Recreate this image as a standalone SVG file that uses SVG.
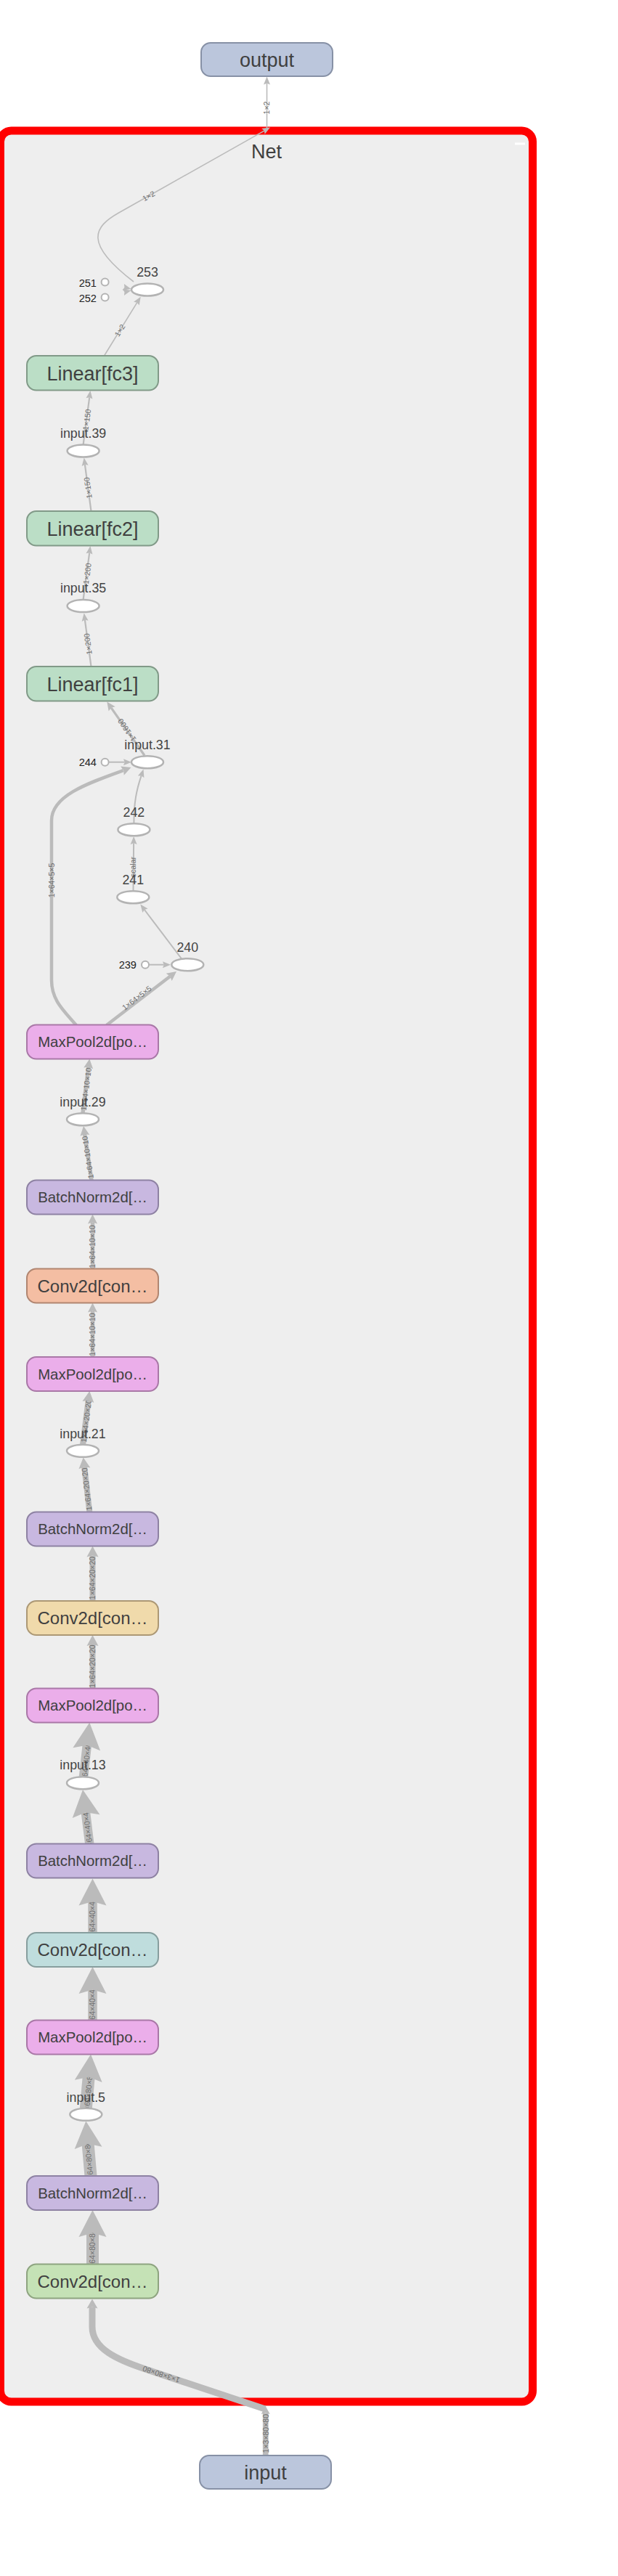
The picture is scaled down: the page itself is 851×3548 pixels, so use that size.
<svg xmlns="http://www.w3.org/2000/svg" xmlns:xlink="http://www.w3.org/1999/xlink" width="851" height="3548" viewBox="0 0 851 3548">
<style>
.edge{fill:none;stroke:#bbbbbb;stroke-linecap:butt}
.ah{fill:#bbbbbb}
.el{font-family:"Liberation Sans",Arial,sans-serif;font-size:10.5px;fill:#6e6e6e;text-anchor:middle}
.box{stroke-width:2}
.nl{font-family:"Liberation Sans",Arial,sans-serif;fill:#404040;text-anchor:middle}
.big{font-size:27px}
.conv{font-size:24px}
.mid{font-size:20.4px}
.opl{font-family:"Liberation Sans",Arial,sans-serif;font-size:17.8px;fill:#444;text-anchor:middle}
.cl{font-family:"Liberation Sans",Arial,sans-serif;font-size:14.6px;fill:#222;text-anchor:end}
.op{fill:#fff;stroke:#b3b3b3;stroke-width:2.5}
.cst{fill:#fff;stroke:#b3b3b3;stroke-width:2}
.io{fill:#bbc6dc;stroke:#8791a6}
.lin{fill:#bbdec6;stroke:#819a88}
.mp{fill:#ebaeea;stroke:#a978a7}
.bn{fill:#c8b8e0;stroke:#8e82a3}
.cv1{fill:#f4bea3;stroke:#b18671}
.cv2{fill:#f0daab;stroke:#ac9875}
.cv3{fill:#bfdddd;stroke:#879e9e}
.cv4{fill:#c5e2b6;stroke:#8ea480}
</style>
<defs>
<path id="ah1" d="M0,0 L-11,-4.5 L-9.35,0 L-11,4.5 Z"/>
<path id="ahT" d="M0,0 L-12,-5.5 L-10.2,0 L-12,5.5 Z"/>
<path id="ah2" d="M0,0 L-13,-6.5 L-11.05,0 L-13,6.5 Z"/>
<path id="ah3" d="M0,0 L-15,-8 L-12.75,0 L-15,8 Z"/>
<path id="ah4" d="M0,0 L-37,-19 L-31.45,0 L-37,19 Z"/>
<path id="ahIn" d="M0,0 L-13,-7.5 L-11.05,0 L-13,7.5 Z"/>
<path id="ahB" d="M0,0 L-11,-6 L-9.35,0 L-11,6 Z"/>
</defs>
<rect width="851" height="3548" fill="#ffffff"/>

<g id="Net">
<rect x="0.5" y="180" width="733" height="3128" rx="15" ry="15" fill="#eeeeee" stroke="#ff0000" stroke-width="11"/>
<text class="nl big" x="367" y="218">Net</text>
<rect x="709" y="196.5" width="14" height="3" fill="#ffffff"/>
</g>

<g id="connectors">
<g id="edge-paths">
<path class="edge" stroke-width="1.6" d="M367.5,176 L367.5,115"/>
<path class="edge" stroke-width="1.6" d="M184,388 C115,335 128.9,312.6 163.7,293 L363.9,180.1"/>
<path class="edge" stroke-width="1.6" d="M143.5,490 L188.8,416.7"/>
<path class="edge" stroke-width="2.2" d="M114.6,612.5 L123.2,547.3"/>
<path class="edge" stroke-width="2.2" d="M125.5,704 L116.9,639.8"/>
<path class="edge" stroke-width="2.2" d="M114.6,826 L123.2,761.3"/>
<path class="edge" stroke-width="2.2" d="M125.5,918 L116.9,853.8"/>
<path class="edge" stroke-width="3.2" d="M199,1040.5 L153.1,974.9"/>
<path class="edge" stroke-width="2" d="M150,1049.7 L171.6,1049.7"/>
<path class="edge" stroke-width="2" d="M184.4,1133.5 C184.4,1105 188,1088 194.6,1068.4"/>
<path class="edge" stroke-width="4.5" d="M105,1412 C88,1392 71,1378 71,1350 L71,1130 C71,1096 120,1079 169.8,1061.1"/>
<path class="edge" stroke-width="4.5" d="M146.7,1412 L234.2,1344.7"/>
<path class="edge" stroke-width="2" d="M205.5,1328.7 L225.7,1328.7"/>
<path class="edge" stroke-width="2" d="M250,1320.5 L198.9,1253"/>
<path class="edge" stroke-width="2" d="M183.5,1227 L184.1,1161.3"/>
<path class="edge" stroke-width="5.5" d="M114,1533 L121.9,1469.5"/>
<path class="edge" stroke-width="5.5" d="M126,1625.5 L116.6,1561.9"/>
<path class="edge" stroke-width="5.5" d="M127.5,1747.5 L127.5,1683.5"/>
<path class="edge" stroke-width="5.5" d="M127.5,1869 L127.5,1805.5"/>
<path class="edge" stroke-width="8" d="M114,1990 L121.7,1928.6"/>
<path class="edge" stroke-width="8" d="M123.3,2082.5 L116.1,2020.2"/>
<path class="edge" stroke-width="8" d="M127.5,2205 L127.5,2142.3"/>
<path class="edge" stroke-width="8" d="M127.5,2325.5 L127.5,2264.8"/>
<path class="edge" stroke-width="12.5" d="M115,2447.5 L119.8,2403.8"/>
<path class="edge" stroke-width="12.5" d="M123.3,2539.5 L117.9,2496.2"/>
<path class="edge" stroke-width="12.5" d="M127.5,2662 L127.5,2619"/>
<path class="edge" stroke-width="12.5" d="M127.5,2782.5 L127.5,2740.5"/>
<path class="edge" stroke-width="17" d="M118.3,2904 L122.2,2860.8"/>
<path class="edge" stroke-width="17" d="M125,2997 L121.1,2952.8"/>
<path class="edge" stroke-width="17" d="M127.5,3118.5 L127.5,3075.5"/>
<path class="edge" stroke-width="9" d="M365,3318 L200,3263 C162,3250.4 127,3235 127,3205 L127,3177.5"/>
<path class="edge" stroke-width="7.7" d="M365.7,3382 L365.7,3323.4"/>
</g>
<g id="edge-labels">
<text class="el" transform="translate(367.5,148.5) rotate(-90)" dy="3.8">1×2</text>
<text class="el" transform="translate(204.6,269.9) rotate(-29.4)" dy="3.8">1×2</text>
<text class="el" transform="translate(165,455) rotate(-58.3)" dy="3.8">1×2</text>
<text class="el" transform="translate(119.5,578) rotate(-82.5)" dy="3.8">1×150</text>
<text class="el" transform="translate(121,672) rotate(-97.6)" dy="3.8">1×150</text>
<text class="el" transform="translate(120,790) rotate(-82.5)" dy="3.8">1×200</text>
<text class="el" transform="translate(121,887) rotate(-97.6)" dy="3.8">1×200</text>
<text class="el" transform="translate(174.7,1005.7) rotate(-124.9)" dy="3.8">1×1600</text>
<text class="el" transform="translate(70.7,1212.5) rotate(-90)" dy="3.8">1×64×5×5</text>
<text class="el" transform="translate(188.3,1374.5) rotate(-37.5)" dy="3.8">1×64×5×5</text>
<text class="el" transform="translate(183.6,1194) rotate(-90)" dy="3.8">scalar</text>
<text class="el" transform="translate(118.5,1500) rotate(-82.9)" dy="3.8">1×64×10×10</text>
<text class="el" transform="translate(120.8,1594) rotate(-98.4)" dy="3.8">1×64×10×10</text>
<text class="el" transform="translate(127.5,1717) rotate(-90)" dy="3.8">1×64×10×10</text>
<text class="el" transform="translate(127.5,1838) rotate(-90)" dy="3.8">1×64×10×10</text>
<text class="el" transform="translate(118.6,1957) rotate(-82.8)" dy="3.8">1×64×20×20</text>
<text class="el" transform="translate(119.3,2051) rotate(-96.5)" dy="3.8">1×64×20×20</text>
<text class="el" transform="translate(127.5,2173.5) rotate(-90)" dy="3.8">1×64×20×20</text>
<text class="el" transform="translate(127.5,2295) rotate(-90)" dy="3.8">1×64×20×20</text>
<text class="el" transform="translate(118.3,2429.5) rotate(-83.7)" dy="3.8">1×64×40×40</text>
<text class="el" transform="translate(120.7,2520) rotate(-97.1)" dy="3.8">1×64×40×40</text>
<text class="el" transform="translate(127.5,2643) rotate(-90)" dy="3.8">1×64×40×40</text>
<text class="el" transform="translate(127.5,2764) rotate(-90)" dy="3.8">1×64×40×40</text>
<text class="el" transform="translate(121.3,2883) rotate(-84.9)" dy="3.8">1×64×80×80</text>
<text class="el" transform="translate(122.6,2978) rotate(-95.1)" dy="3.8">1×64×80×80</text>
<text class="el" transform="translate(127.5,3100) rotate(-90)" dy="3.8">1×64×80×80</text>
<text class="el" transform="translate(222,3270.5) rotate(198.4)" dy="3.8">1×3×80×80</text>
<text class="el" transform="translate(365.7,3351.7) rotate(-90)" dy="3.8">1×3×80×80</text>
</g>
<g id="arrowheads" class="ah">
<use xlink:href="#ah1" transform="translate(367.5,105.5) rotate(-90)"/>
<use xlink:href="#ah1" transform="translate(372,175.5) rotate(-29.4)"/>
<use xlink:href="#ah1" transform="translate(193.7,408.7) rotate(-58.3)"/>
<use xlink:href="#ah1" transform="translate(180.5,398) rotate(13.7)"/>
<use xlink:href="#ah1" transform="translate(180.5,400) rotate(-14)"/>
<use xlink:href="#ah1" transform="translate(124.4,538) rotate(-82.5)"/>
<use xlink:href="#ah1" transform="translate(115.7,630.5) rotate(-97.6)"/>
<use xlink:href="#ah1" transform="translate(124.4,752) rotate(-82.5)"/>
<use xlink:href="#ah1" transform="translate(115.7,844.5) rotate(-97.6)"/>
<use xlink:href="#ahT" transform="translate(147.3,966.5) rotate(-124.9)"/>
<use xlink:href="#ah1" transform="translate(181,1049.7) rotate(0)"/>
<use xlink:href="#ah1" transform="translate(197.5,1059.5) rotate(-72.2)"/>
<use xlink:href="#ah2" transform="translate(180.5,1057) rotate(-21)"/>
<use xlink:href="#ah2" transform="translate(243,1338) rotate(-37.5)"/>
<use xlink:href="#ah1" transform="translate(235,1328.7) rotate(0)"/>
<use xlink:href="#ah1" transform="translate(193.3,1245.5) rotate(-127.1)"/>
<use xlink:href="#ah1" transform="translate(184.2,1152) rotate(-89.5)"/>
<use xlink:href="#ah2" transform="translate(123.3,1458.5) rotate(-82.9)"/>
<use xlink:href="#ah2" transform="translate(115,1551) rotate(-98.4)"/>
<use xlink:href="#ah2" transform="translate(127.5,1672.5) rotate(-90)"/>
<use xlink:href="#ah2" transform="translate(127.5,1794.5) rotate(-90)"/>
<use xlink:href="#ah3" transform="translate(123.3,1916) rotate(-82.8)"/>
<use xlink:href="#ah3" transform="translate(114.7,2007.5) rotate(-96.5)"/>
<use xlink:href="#ah3" transform="translate(127.5,2129.5) rotate(-90)"/>
<use xlink:href="#ah3" transform="translate(127.5,2252) rotate(-90)"/>
<use xlink:href="#ah4" transform="translate(123.3,2372.5) rotate(-83.7)"/>
<use xlink:href="#ah4" transform="translate(114,2465) rotate(-97.1)"/>
<use xlink:href="#ah4" transform="translate(127.5,2587.5) rotate(-90)"/>
<use xlink:href="#ah4" transform="translate(127.5,2709) rotate(-90)"/>
<use xlink:href="#ah4" transform="translate(125,2829.5) rotate(-84.9)"/>
<use xlink:href="#ah4" transform="translate(118.3,2921.5) rotate(-95.1)"/>
<use xlink:href="#ah4" transform="translate(127.5,3044) rotate(-90)"/>
<use xlink:href="#ahIn" transform="translate(127,3166.5) rotate(-90)"/>
<use xlink:href="#ahB" transform="translate(365.7,3314) rotate(-90)"/>
</g>
</g>

<g id="nodes">
<g id="node-output"><rect class="box io" x="277" y="59" width="181" height="46" rx="13"/><text class="nl big" x="367.5" y="91.7">output</text></g>
<g id="node-253"><ellipse class="op" cx="203" cy="399" rx="22" ry="8.5"/><text class="opl" x="203" y="381">253</text></g>
<g id="node-251"><circle class="cst" cx="144.6" cy="388.5" r="5"/><text class="cl" x="133" y="395">251</text></g>
<g id="node-252"><circle class="cst" cx="144.6" cy="409.5" r="5"/><text class="cl" x="133" y="416">252</text></g>
<g id="node-fc3"><rect class="box lin" x="37" y="490" width="181" height="47.5" rx="13"/><text class="nl big" x="127.5" y="523.5">Linear[fc3]</text></g>
<g id="node-input39"><ellipse class="op" cx="114.6" cy="621" rx="22" ry="8.5"/><text class="opl" x="114.6" y="603">input.39</text></g>
<g id="node-fc2"><rect class="box lin" x="37" y="704" width="181" height="47.5" rx="13"/><text class="nl big" x="127.5" y="737.5">Linear[fc2]</text></g>
<g id="node-input35"><ellipse class="op" cx="114.6" cy="834.6" rx="22" ry="8.5"/><text class="opl" x="114.6" y="816">input.35</text></g>
<g id="node-fc1"><rect class="box lin" x="37" y="918" width="181" height="47.5" rx="13"/><text class="nl big" x="127.5" y="951.5">Linear[fc1]</text></g>
<g id="node-input31"><ellipse class="op" cx="203" cy="1049.7" rx="22" ry="8.5"/><text class="opl" x="203" y="1031.7">input.31</text></g>
<g id="node-244"><circle class="cst" cx="144.6" cy="1049.7" r="5"/><text class="cl" x="133" y="1055.4">244</text></g>
<g id="node-242"><ellipse class="op" cx="184.4" cy="1142.7" rx="22" ry="8.5"/><text class="opl" x="184.4" y="1125">242</text></g>
<g id="node-241"><ellipse class="op" cx="183.3" cy="1235.7" rx="22" ry="8.5"/><text class="opl" x="183.3" y="1217.7">241</text></g>
<g id="node-240"><ellipse class="op" cx="258.3" cy="1328.7" rx="22" ry="8.5"/><text class="opl" x="258.3" y="1310.7">240</text></g>
<g id="node-239"><circle class="cst" cx="200" cy="1328.7" r="5"/><text class="cl" x="188" y="1334.3">239</text></g>
<g id="node-pool4"><rect class="box mp" x="37" y="1411.5" width="181" height="47" rx="13"/><text class="nl mid" x="127.5" y="1442.3">MaxPool2d[po…</text></g>
<g id="node-input29"><ellipse class="op" cx="114" cy="1541.7" rx="22" ry="8.5"/><text class="opl" x="114" y="1524">input.29</text></g>
<g id="node-bn4"><rect class="box bn" x="37" y="1625.5" width="181" height="47" rx="13"/><text class="nl mid" x="127.5" y="1656.3">BatchNorm2d[…</text></g>
<g id="node-conv4"><rect class="box cv1" x="37" y="1747.5" width="181" height="47" rx="13"/><text class="nl conv" x="127.5" y="1779.6">Conv2d[con…</text></g>
<g id="node-pool3"><rect class="box mp" x="37" y="1869" width="181" height="47" rx="13"/><text class="nl mid" x="127.5" y="1899.8">MaxPool2d[po…</text></g>
<g id="node-input21"><ellipse class="op" cx="114" cy="1998.3" rx="22" ry="8.5"/><text class="opl" x="114" y="1980.7">input.21</text></g>
<g id="node-bn3"><rect class="box bn" x="37" y="2082.5" width="181" height="47" rx="13"/><text class="nl mid" x="127.5" y="2113.3">BatchNorm2d[…</text></g>
<g id="node-conv3"><rect class="box cv2" x="37" y="2205" width="181" height="47" rx="13"/><text class="nl conv" x="127.5" y="2237.1">Conv2d[con…</text></g>
<g id="node-pool2"><rect class="box mp" x="37" y="2325.5" width="181" height="47" rx="13"/><text class="nl mid" x="127.5" y="2356.3">MaxPool2d[po…</text></g>
<g id="node-input13"><ellipse class="op" cx="114" cy="2455.7" rx="22" ry="8.5"/><text class="opl" x="114" y="2437.3">input.13</text></g>
<g id="node-bn2"><rect class="box bn" x="37" y="2539.5" width="181" height="47" rx="13"/><text class="nl mid" x="127.5" y="2570.3">BatchNorm2d[…</text></g>
<g id="node-conv2"><rect class="box cv3" x="37" y="2662" width="181" height="47" rx="13"/><text class="nl conv" x="127.5" y="2694.1">Conv2d[con…</text></g>
<g id="node-pool1"><rect class="box mp" x="37" y="2782.5" width="181" height="47" rx="13"/><text class="nl mid" x="127.5" y="2813.3">MaxPool2d[po…</text></g>
<g id="node-input5"><ellipse class="op" cx="118.3" cy="2912.3" rx="22" ry="8.5"/><text class="opl" x="118.3" y="2895">input.5</text></g>
<g id="node-bn1"><rect class="box bn" x="37" y="2997" width="181" height="47" rx="13"/><text class="nl mid" x="127.5" y="3027.8">BatchNorm2d[…</text></g>
<g id="node-conv1"><rect class="box cv4" x="37" y="3118.5" width="181" height="47" rx="13"/><text class="nl conv" x="127.5" y="3150.6">Conv2d[con…</text></g>
<g id="node-input"><rect class="box io" x="275" y="3382" width="181" height="46" rx="13"/><text class="nl big" x="365.5" y="3414.7">input</text></g>
</g>
</svg>
